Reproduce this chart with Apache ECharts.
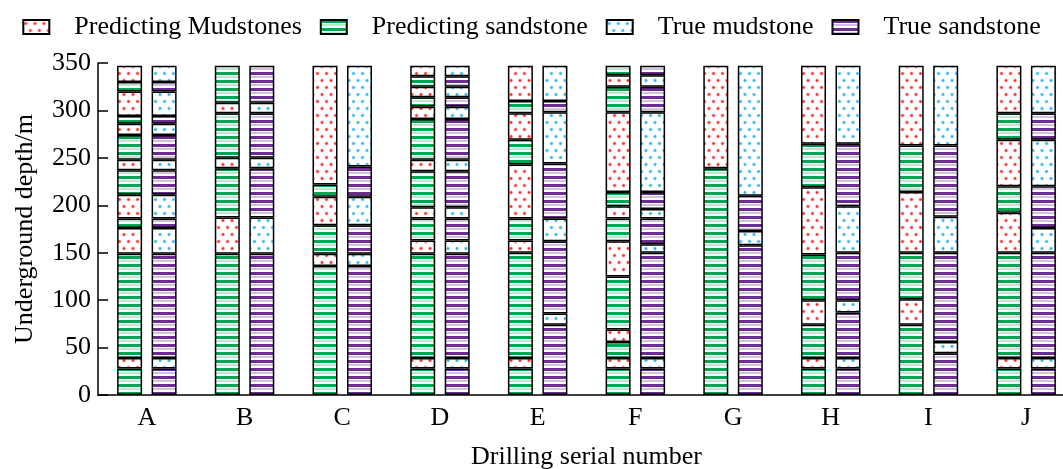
<!DOCTYPE html>
<html>
<head>
<meta charset="utf-8">
<script src="https://cdn.jsdelivr.net/npm/echarts@6/dist/echarts.min.js"></script>
<style>
  html, body { margin: 0; padding: 0; background: #fff; }
  #main { width: 1063px; height: 469px; }
</style>
</head>
<body>
<div id="main"></div>
<script>
var wells = ['A', 'B', 'C', 'D', 'E', 'F', 'G', 'H', 'I', 'J'];
var yTicks = [0, 50, 100, 150, 200, 250, 300, 350];

// layer tops (m from bottom), layers alternate sandstone / mudstone starting with sandstone at the bottom
var predTops = [
    [28, 39, 149, 176, 186, 211, 237, 248, 274, 286, 294, 320, 330, 347],
    [149, 187, 239, 250, 297, 308, 347],
    [136, 149, 179, 209, 222, 347],
    [28, 39, 149, 163, 186, 198, 236, 248, 291, 304, 314, 325, 336, 347],
    [28, 39, 150, 163, 186, 243, 269, 297, 310, 347],
    [28, 39, 56, 69, 125, 162, 186, 199, 214, 298, 325, 337, 347],
    [239, 347],
    [28, 39, 74, 100, 148, 219, 265, 347],
    [74, 101, 150, 214, 263, 347],
    [28, 39, 150, 192, 220, 269, 297, 347]
];
var trueTops = [
    [28, 39, 149, 176, 186, 211, 237, 248, 274, 286, 294, 320, 330, 347],
    [149, 187, 239, 250, 297, 308, 347],
    [136, 149, 179, 209, 241, 347],
    [28, 39, 149, 163, 186, 198, 236, 248, 291, 304, 314, 325, 336, 347],
    [74, 86, 162, 186, 244, 298, 310, 347],
    [28, 39, 150, 159, 186, 196, 214, 298, 325, 337, 347],
    [158, 173, 210, 347],
    [28, 39, 87, 100, 150, 199, 265, 347],
    [44, 56, 150, 188, 263, 347],
    [28, 39, 150, 176, 220, 269, 297, 347]
];

var FONT = 'Liberation Serif';

// fill patterns
function stripes(dark, pale) {
    var c = document.createElement('canvas');
    c.width = 8; c.height = 8;
    var g = c.getContext('2d');
    g.fillStyle = '#fff'; g.fillRect(0, 0, 8, 8);
    g.fillStyle = dark; g.fillRect(0, 0, 8, 3);
    g.fillStyle = pale; g.fillRect(0, 4, 8, 2);
    return { image: c, repeat: 'repeat' };
}
function dots(col, halo) {
    var c = document.createElement('canvas');
    c.width = 9; c.height = 14;
    var g = c.getContext('2d');
    g.fillStyle = '#fff'; g.fillRect(0, 0, 9, 14);
    [[2.5, 3.5], [7, 10.5]].forEach(function (p) {
        g.fillStyle = halo;
        g.beginPath(); g.arc(p[0], p[1], 2, 0, Math.PI * 2); g.fill();
        g.fillStyle = col;
        g.beginPath(); g.arc(p[0], p[1], 1.25, 0, Math.PI * 2); g.fill();
    });
    return { image: c, repeat: 'repeat' };
}

var predMud = dots('#ff2a2a', '#ffc0c0');
var predSand = stripes('#00a651', '#bfe6cc');
var trueMud = dots('#2bb5ee', '#bde8fa');
var trueSand = stripes('#6b2d93', '#d3c0e0');

function buildSeries(tops, stack, mud, sand) {
    var maxN = 0;
    tops.forEach(function (t) { maxN = Math.max(maxN, t.length); });
    var out = [];
    for (var k = 0; k < maxN; k++) {
        var data = tops.map(function (t) {
            if (k >= t.length) return '-';
            return {
                value: t[k] - (k > 0 ? t[k - 1] : 0),
                itemStyle: { color: k % 2 === 0 ? sand : mud }
            };
        });
        out.push({
            type: 'bar',
            stack: stack,
            barWidth: 25,
            barGap: '38%',
            silent: true,
            itemStyle: { borderColor: '#000', borderWidth: 1.5 },
            data: data
        });
    }
    return out;
}

var series = [].concat(
    buildSeries(predTops, 'pred', predMud, predSand),
    buildSeries(trueTops, 'true', trueMud, trueSand)
);
// legend entries
[['Predicting Mudstones', 'pred', predMud], ['Predicting sandstone', 'pred', predSand],
 ['True mudstone', 'true', trueMud], ['True sandstone', 'true', trueSand]].forEach(function (l) {
    series.push({
        name: l[0], type: 'bar', stack: l[1], barWidth: 25, barGap: '38%',
        itemStyle: { color: l[2], borderColor: '#000', borderWidth: 1.5 },
        data: []
    });
});

var myChart = echarts.init(document.getElementById('main'));
var option = {
    animation: false,
    backgroundColor: '#fff',
    textStyle: { fontFamily: FONT, color: '#000' },
    legend: {
        top: 9,
        left: 'center',
        itemWidth: 26,
        itemHeight: 14,
        itemGap: 18,
        icon: 'rect',
        data: ['Predicting Mudstones', 'Predicting sandstone', 'True mudstone', 'True sandstone'],
        textStyle: { fontFamily: FONT, fontSize: 26, color: '#000', padding: [0, 0, 0, 20] }
    },
    grid: { left: 98, top: 63, width: 977, height: 332, outerBoundsMode: 'none' },
    xAxis: {
        type: 'category',
        data: wells,
        name: 'Drilling serial number',
        nameLocation: 'middle',
        nameGap: 49,
        nameTextStyle: { fontFamily: FONT, fontSize: 26, color: '#000' },
        axisLine: { lineStyle: { color: '#000', width: 1.5 } },
        axisTick: { inside: true, length: 9, lineStyle: { color: '#000', width: 1.5 } },
        axisLabel: { fontFamily: FONT, fontSize: 26, color: '#000', margin: 10 }
    },
    yAxis: {
        type: 'value',
        min: 0,
        max: 350,
        interval: 50,
        name: 'Underground depth/m',
        nameLocation: 'middle',
        nameGap: 60,
        nameTextStyle: { fontFamily: FONT, fontSize: 26, color: '#000' },
        axisLine: { show: true, lineStyle: { color: '#000', width: 1.5 } },
        axisTick: { show: true, inside: true, length: 10, lineStyle: { color: '#000', width: 1.5 } },
        splitLine: { show: false },
        axisLabel: {
            fontFamily: FONT, fontSize: 26, color: '#000', margin: 7,
            formatter: function (v) { return yTicks.indexOf(v) >= 0 ? String(v) : ''; }
        }
    },
    series: series
};
myChart.setOption(option);
</script>
</body>
</html>
